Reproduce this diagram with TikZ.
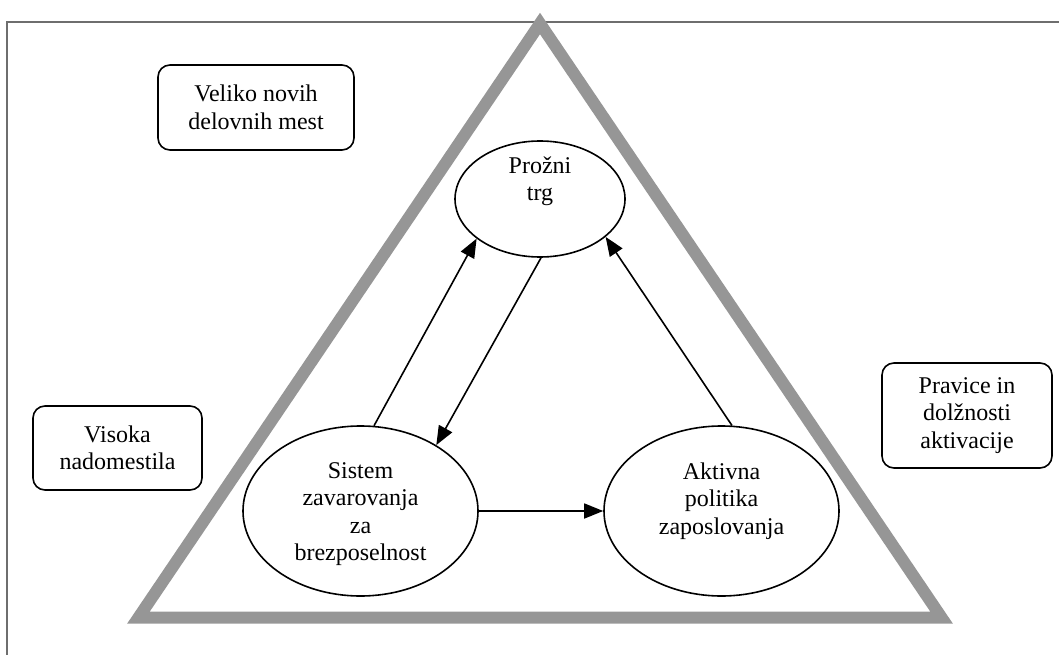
\documentclass[tikz,border=0pt]{standalone}
\usepackage{fontspec}
\setmainfont{Liberation Serif}
\usetikzlibrary{arrows.meta,shapes.geometric}
\definecolor{triGray}{RGB}{150,150,150}
\definecolor{frameGray}{RGB}{110,110,110}
\begin{document}
\begin{tikzpicture}[x=1pt,y=-1pt,
  txt/.style={font=\fontsize{24}{27.5}\selectfont, align=center, inner sep=0pt},
  ell/.style={draw, ellipse, line width=1.6pt, inner sep=0pt},
  box/.style={draw, rectangle, rounded corners=12pt, line width=1.6pt, inner sep=0pt,
    font=\fontsize{24}{27.5}\selectfont, align=center},
  arr/.style={-{Triangle[length=19pt,width=15pt]}, line width=1.6pt},
  tri/.style={draw=triGray, line width=12pt, line join=miter, miter limit=10},
  frame/.style={draw=frameGray, line width=1.5pt}]
\useasboundingbox (0,0) rectangle (1059,655);
% outer frame (top and left edges)
\draw[frame] (7,655) -- (7,22) -- (1059,22);
% triangle
\draw[tri] (540,23.5) -- (941.5,617.5) -- (138.5,617.5) -- cycle;
% boxes
\node[box, minimum width=196pt, minimum height=85pt] (veliko) at (256,107.5) {Veliko novih\\delovnih mest};
\node[box, minimum width=169pt, minimum height=84pt] (visoka) at (117.5,448) {Visoka\\nadomestila};
\node[box, minimum width=170pt, minimum height=105pt] (pravice) at (967,415.5) {Pravice in\\dolžnosti\\aktivacije};
% ellipses
\node[ell, minimum width=170pt, minimum height=116pt] (prz) at (540,199) {};
\node[ell, minimum width=235pt, minimum height=170pt] (sis) at (360.5,511) {};
\node[ell, minimum width=235pt, minimum height=170pt] (akt) at (721.5,511) {};
\node[txt] (przT) at (540,181) {Prožni\\trg};
\node[txt] (sisT) at (360.5,514) {Sistem\\zavarovanja\\za\\brezposelnost};
\node[txt] (aktT) at (721.5,501) {Aktivna\\politika\\zaposlovanja};
% arrows
\draw[arr] (sis.81.5) -- (prz.-148.9);
\draw[arr] (prz.-89) -- (sis.41.5);
\draw[arr] (akt.83) -- (prz.-30.3);
\draw[arr] (sis.east) -- (akt.west);
\end{tikzpicture}
\end{document}
